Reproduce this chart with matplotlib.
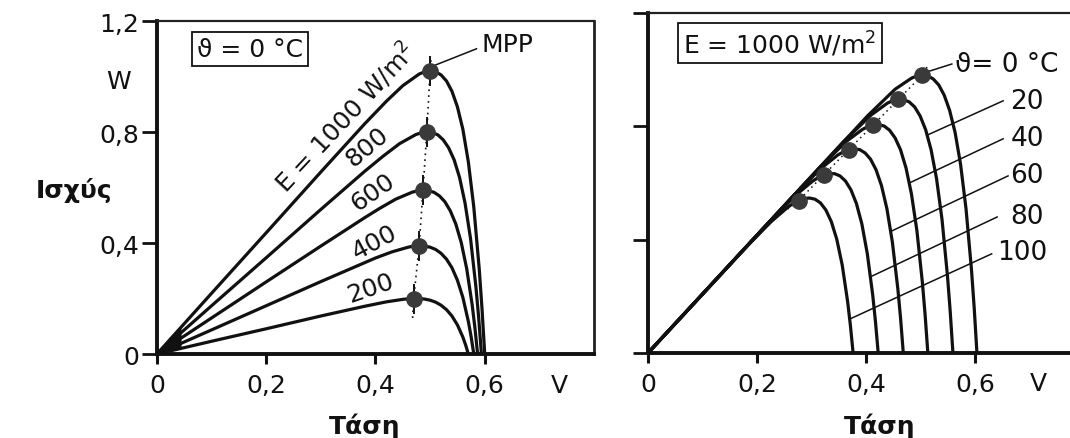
import numpy as np
import matplotlib.pyplot as plt

plt.rcParams['font.family'] = ['DejaVu Sans']

# --- left: P-V curves at 0 °C for several irradiance levels (W/m2) ---
irr_labels = ['E = 1000 W/m$^2$', '800', '600', '400', '200']

v_1000 = [0, 0.1, 0.2, 0.3, 0.38, 0.42, 0.45, 0.48, 0.49, 0.50, 0.51, 0.52, 0.53, 0.54, 0.55, 0.56, 0.57, 0.58, 0.59, 0.595, 0.60]
p_1000 = [0, 0.219, 0.437, 0.656, 0.829, 0.911, 0.967, 1.009, 1.017, 1.020, 1.017, 1.006, 0.984, 0.947, 0.891, 0.810, 0.693, 0.530, 0.306, 0.165, 0]
v_800 = [0, 0.1, 0.2, 0.3, 0.38, 0.414, 0.444, 0.474, 0.484, 0.494, 0.504, 0.514, 0.524, 0.534, 0.544, 0.554, 0.564, 0.574, 0.584, 0.589, 0.594]
p_800 = [0, 0.174, 0.347, 0.521, 0.658, 0.713, 0.758, 0.791, 0.797, 0.800, 0.798, 0.790, 0.772, 0.743, 0.700, 0.636, 0.544, 0.417, 0.240, 0.130, 0]
v_600 = [0, 0.1, 0.2, 0.3, 0.38, 0.407, 0.437, 0.467, 0.477, 0.487, 0.497, 0.507, 0.517, 0.527, 0.537, 0.547, 0.557, 0.567, 0.577, 0.582, 0.587]
p_600 = [0, 0.130, 0.260, 0.389, 0.491, 0.524, 0.558, 0.583, 0.588, 0.590, 0.588, 0.583, 0.570, 0.549, 0.516, 0.469, 0.402, 0.308, 0.178, 0.096, 0]
v_400 = [0, 0.1, 0.2, 0.3, 0.38, 0.40, 0.43, 0.46, 0.47, 0.48, 0.49, 0.50, 0.51, 0.52, 0.53, 0.54, 0.55, 0.56, 0.57, 0.575, 0.58]
p_400 = [0, 0.087, 0.174, 0.261, 0.329, 0.346, 0.368, 0.385, 0.389, 0.390, 0.389, 0.385, 0.377, 0.363, 0.342, 0.311, 0.266, 0.204, 0.118, 0.064, 0]
v_200 = [0, 0.1, 0.2, 0.3, 0.38, 0.42, 0.45, 0.46, 0.47, 0.48, 0.49, 0.50, 0.51, 0.52, 0.53, 0.54, 0.55, 0.56, 0.565, 0.57]
p_200 = [0, 0.046, 0.091, 0.137, 0.172, 0.188, 0.197, 0.199, 0.200, 0.200, 0.198, 0.194, 0.187, 0.176, 0.160, 0.137, 0.105, 0.061, 0.033, 0]

mpp_v = [0.50, 0.494, 0.487, 0.48, 0.47]
mpp_p = [1.02, 0.80, 0.59, 0.39, 0.20]

# label anchor points and angles along the curves
irr_lab_v = [0.344, 0.384, 0.395, 0.399, 0.390]
irr_lab_p = [0.858, 0.750, 0.584, 0.404, 0.238]
irr_lab_rot = [47, 40, 35, 28, 19]

# --- right: P-V curves at 1000 W/m2 for several cell temperatures (°C) ---
temp_labels = ['ϑ= 0 °C', '20', '40', '60', '80', '100']

v_t0 = [0, 0.403, 0.453, 0.483, 0.493, 0.503, 0.513, 0.523, 0.533, 0.543, 0.553, 0.563, 0.573, 0.583, 0.593, 0.598, 0.603]
p_t0 = [0, 0.838, 0.931, 0.970, 0.978, 0.981, 0.978, 0.967, 0.946, 0.910, 0.856, 0.778, 0.666, 0.509, 0.294, 0.159, 0]
v_t20 = [0, 0.359, 0.409, 0.439, 0.449, 0.459, 0.469, 0.479, 0.489, 0.499, 0.509, 0.519, 0.529, 0.539, 0.549, 0.554, 0.559]
p_t20 = [0, 0.747, 0.840, 0.882, 0.891, 0.895, 0.894, 0.886, 0.868, 0.836, 0.788, 0.717, 0.615, 0.471, 0.272, 0.147, 0]
v_t40 = [0, 0.313, 0.363, 0.393, 0.403, 0.413, 0.423, 0.433, 0.443, 0.453, 0.463, 0.473, 0.483, 0.493, 0.503, 0.508, 0.513]
p_t40 = [0, 0.651, 0.746, 0.789, 0.799, 0.805, 0.806, 0.801, 0.786, 0.759, 0.717, 0.653, 0.561, 0.431, 0.249, 0.135, 0]
v_t60 = [0, 0.268, 0.318, 0.348, 0.358, 0.368, 0.378, 0.388, 0.398, 0.408, 0.418, 0.428, 0.438, 0.448, 0.458, 0.463, 0.468]
p_t60 = [0, 0.558, 0.653, 0.699, 0.710, 0.718, 0.720, 0.718, 0.706, 0.684, 0.647, 0.591, 0.509, 0.391, 0.227, 0.123, 0]
v_t80 = [0, 0.222, 0.272, 0.302, 0.312, 0.322, 0.332, 0.342, 0.352, 0.362, 0.372, 0.382, 0.392, 0.402, 0.412, 0.417, 0.422]
p_t80 = [0, 0.462, 0.559, 0.607, 0.619, 0.628, 0.633, 0.633, 0.625, 0.607, 0.576, 0.528, 0.456, 0.351, 0.204, 0.111, 0]
v_t100 = [0, 0.176, 0.226, 0.256, 0.266, 0.276, 0.286, 0.296, 0.306, 0.316, 0.326, 0.336, 0.346, 0.356, 0.366, 0.371, 0.376]
p_t100 = [0, 0.366, 0.464, 0.514, 0.528, 0.538, 0.545, 0.547, 0.543, 0.530, 0.505, 0.464, 0.402, 0.311, 0.181, 0.098, 0]

t_mpp_v = [0.503, 0.459, 0.413, 0.368, 0.322, 0.276]
t_mpp_p = [0.981, 0.895, 0.805, 0.718, 0.628, 0.538]

# leader lines from each curve to its label
lead_v0 = [0.508, 0.513, 0.479, 0.446, 0.409, 0.370]
lead_p0 = [0.990, 0.770, 0.600, 0.430, 0.270, 0.120]
lead_v1 = [0.557, 0.651, 0.651, 0.660, 0.640, 0.630]
lead_p1 = [1.020, 0.890, 0.756, 0.625, 0.480, 0.350]
t_lab_v = [0.563, 0.664, 0.664, 0.664, 0.664, 0.640]
t_lab_p = [1.020, 0.890, 0.760, 0.630, 0.485, 0.355]

y_ticks = [0, 0.4, 0.8, 1.2]
y_ticklabels = ['0', '0,4', '0,8', '1,2']
x_ticks = [0, 0.2, 0.4, 0.6]
x_ticklabels = ['0', '0,2', '0,4', '0,6']

ink = '#111111'
dot_col = '#3a3a3a'
fs = 18

fig = plt.figure(figsize=(10.7, 4.39), dpi=100)
ax1 = fig.add_axes([0.1467, 0.1913, 0.4084, 0.7585])
ax2 = fig.add_axes([0.6056, 0.1936, 0.3944, 0.7745])


def style_axes(ax, xmax, show_ylabels):
    ax.set_xlim(0, xmax)
    ax.set_ylim(0, 1.2)
    ax.set_xticks(x_ticks)
    ax.set_xticklabels(x_ticklabels, fontsize=fs)
    ax.set_yticks(y_ticks)
    if show_ylabels:
        ax.set_yticklabels(y_ticklabels, fontsize=fs)
    else:
        ax.set_yticklabels([])
    ax.tick_params(axis='x', direction='out', length=7, width=2.2, pad=7, colors=ink)
    ax.tick_params(axis='y', direction='out', length=11, width=2.0, pad=2, colors=ink)
    for s in ['left', 'bottom']:
        ax.spines[s].set_linewidth(2.8)
        ax.spines[s].set_color(ink)
    ax.spines['top'].set_linewidth(1.6)
    ax.spines['top'].set_color('#222222')
    ax.spines['right'].set_linewidth(2.0)
    ax.spines['right'].set_color('#222222')


style_axes(ax1, 0.8, True)
style_axes(ax2, 0.7736, False)
ax2.spines['right'].set_visible(False)

# left panel
left_v = [v_1000, v_800, v_600, v_400, v_200]
left_p = [p_1000, p_800, p_600, p_400, p_200]
for v, p in zip(left_v, left_p):
    ax1.plot(v, p, color=ink, lw=2.3, solid_capstyle='butt', solid_joinstyle='round', zorder=3)

# ink blob where the curves meet at the origin
v_end = 0.045
ax1.fill([0, v_end, v_end], [0, np.interp(v_end, v_1000, p_1000), np.interp(v_end, v_200, p_200)],
         color=ink, lw=0, zorder=3)

ax1.plot([mpp_v[-1] - 0.002] + mpp_v[::-1] + [mpp_v[0] + 0.002],
         [mpp_p[-1] - 0.07] + mpp_p[::-1] + [mpp_p[0] + 0.05],
         color=ink, lw=1.2, ls=(0, (1, 2.5)), zorder=2)
ax1.plot(mpp_v, mpp_p, ls='none', marker='|', ms=22, mew=1.4, color=ink, zorder=4)
ax1.plot(mpp_v, mpp_p, ls='none', marker='o', ms=11, color=dot_col, mec=dot_col, zorder=5)

for lab, lv, lp, rot in zip(irr_labels, irr_lab_v, irr_lab_p, irr_lab_rot):
    ax1.text(lv, lp, lab, fontsize=fs, rotation=rot, rotation_mode='anchor',
             ha='center', va='center', color=ink)

ax1.plot([mpp_v[0] + 0.008, 0.585], [mpp_p[0] + 0.02, 1.10], color=ink, lw=1.1)
ax1.text(0.595, 1.117, 'MPP', fontsize=fs, ha='left', va='center', color=ink)

ax1.text(0.170, 1.099, 'ϑ = 0 °C', fontsize=fs, ha='center', va='center', color=ink,
         bbox=dict(boxstyle='square,pad=0.2', fc='white', ec=ink, lw=1.3))
ax1.text(-0.071, 0.984, 'W', fontsize=fs, ha='center', va='center', color=ink, clip_on=False)
ax1.text(0.737, -0.112, 'V', fontsize=fs, ha='center', va='center', color=ink, clip_on=False)

# right panel
right_v = [v_t0, v_t20, v_t40, v_t60, v_t80, v_t100]
right_p = [p_t0, p_t20, p_t40, p_t60, p_t80, p_t100]
for v, p in zip(right_v, right_p):
    ax2.plot(v, p, color=ink, lw=2.3, solid_capstyle='butt', solid_joinstyle='round', zorder=3)

ax2.plot([t_mpp_v[-1] - 0.02] + t_mpp_v[::-1] + [t_mpp_v[0] + 0.012],
         [t_mpp_p[-1] - 0.03] + t_mpp_p[::-1] + [t_mpp_p[0] + 0.04],
         color=ink, lw=1.1, ls=(0, (1, 2.5)), zorder=2)
ax2.plot(t_mpp_v, t_mpp_p, ls='none', marker='o', ms=11, color=dot_col, mec=dot_col, zorder=5)

for x0, y0, x1, y1 in zip(lead_v0, lead_p0, lead_v1, lead_p1):
    ax2.plot([x0, x1], [y0, y1], color=ink, lw=1.1, zorder=2)
for lab, lv, lp in zip(temp_labels, t_lab_v, t_lab_p):
    ax2.text(lv, lp, lab, fontsize=fs + 1, ha='left', va='center', color=ink, clip_on=False)

ax2.text(0.242, 1.094, 'E = 1000 W/m$^2$', fontsize=fs, ha='center', va='center', color=ink,
         bbox=dict(boxstyle='square,pad=0.2', fc='white', ec=ink, lw=1.3))
ax2.text(0.715, -0.106, 'V', fontsize=fs, ha='center', va='center', color=ink, clip_on=False)

fig.text(0.069, 0.567, 'Ισχύς', fontsize=fs, fontweight='bold', ha='center', va='center', color=ink)
fig.text(0.341, 0.030, 'Τάση', fontsize=fs, fontweight='bold', ha='center', va='center', color=ink)
fig.text(0.822, 0.030, 'Τάση', fontsize=fs, fontweight='bold', ha='center', va='center', color=ink)

fig.savefig('out.png', dpi=100, facecolor='white')
